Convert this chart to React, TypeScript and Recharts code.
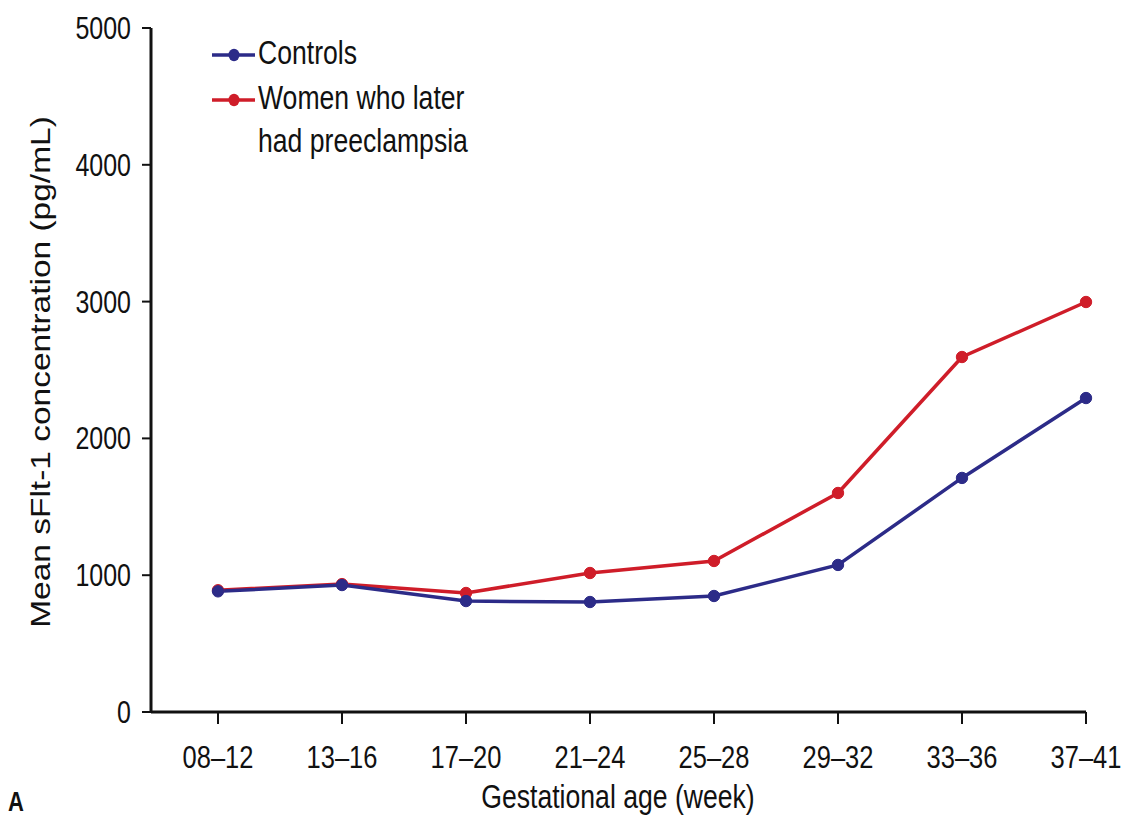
import { Line, LineChart, XAxis, YAxis } from "recharts";

const weeks = ["08–12", "13–16", "17–20", "21–24", "25–28", "29–32", "33–36", "37–41"];
const controls = [882, 928, 811, 804, 848, 1075, 1711, 2295];
const preeclampsia = [890, 935, 870, 1016, 1104, 1601, 2595, 2997];
const yTicks = [0, 1000, 2000, 3000, 4000, 5000];

const BLUE = "#2c2b88";
const RED = "#cf1d29";
const INK = "#111";
const FONT = "'Liberation Sans', Arial, sans-serif";
// the source figure is stretched vertically, so glyphs are taller than they are wide
const STRETCH = 1.24;

const rows = weeks.map((w, i) => ({ week: w, controls: controls[i], pre: preeclampsia[i] }));

function TallText({
  x,
  y,
  anchor = "start",
  size = 25,
  weight = "normal",
  children,
}: {
  x: number;
  y: number;
  anchor?: "start" | "middle" | "end";
  size?: number;
  weight?: string;
  children: React.ReactNode;
}) {
  return (
    <text
      x={0}
      y={0}
      transform={`translate(${x},${y}) scale(1,${STRETCH})`}
      textAnchor={anchor}
      fill={INK}
      fontSize={size}
      fontWeight={weight}
      fontFamily={FONT}
    >
      {children}
    </text>
  );
}

function XTick(props: any) {
  const { x, payload } = props;
  return <TallText x={x} y={768} anchor="middle" size={25.5}>{payload.value}</TallText>;
}

function YTick(props: any) {
  const { y, payload } = props;
  return <TallText x={131} y={y + 11} anchor="end">{payload.value}</TallText>;
}

function LegendRow({ y, color }: { y: number; color: string }) {
  return (
    <g>
      <line x1={212} y1={y} x2={255} y2={y} stroke={color} strokeWidth={3.5} />
      <ellipse cx={234} cy={y} rx={5.5} ry={6.2} fill={color} />
    </g>
  );
}

function Overlay() {
  return (
    <svg width={1128} height={823} style={{ position: "absolute", left: 0, top: 0, pointerEvents: "none" }}>
      <LegendRow y={55} color={BLUE} />
      <TallText x={258} y={64} size={26.6}>Controls</TallText>
      <LegendRow y={100} color={RED} />
      <TallText x={258} y={109} size={26.6}>Women who later</TallText>
      <TallText x={258} y={152} size={26.6}>had preeclampsia</TallText>

      <text
        x={0}
        y={0}
        transform={`translate(50,372) rotate(-90) scale(${STRETCH},1)`}
        textAnchor="middle"
        fill={INK}
        fontSize={27}
        fontFamily={FONT}
      >
        Mean sFlt-1 concentration (pg/mL)
      </text>
      <TallText x={618} y={808} anchor="middle" size={26.6}>Gestational age (week)</TallText>
      <TallText x={8} y={811} size={22} weight="bold">A</TallText>
    </svg>
  );
}

export default function App() {
  return (
    <div style={{ position: "absolute", left: 0, top: 0, width: 1128, height: 823, background: "#fff" }}>
      <LineChart width={1128} height={823} data={rows} margin={{ top: 28, right: 42, bottom: 51, left: 0 }}>
        <XAxis
          dataKey="week"
          padding={{ left: 67, right: 0 }}
          height={60}
          tick={<XTick />}
          tickSize={12}
          axisLine={{ stroke: INK, strokeWidth: 3 }}
          tickLine={{ stroke: INK, strokeWidth: 2 }}
          interval={0}
        />
        <YAxis
          width={151}
          domain={[0, 5000]}
          ticks={yTicks}
          tick={<YTick />}
          tickSize={9}
          axisLine={{ stroke: INK, strokeWidth: 3 }}
          tickLine={{ stroke: INK, strokeWidth: 2 }}
        />
        <Line
          dataKey="pre"
          name="Women who later had preeclampsia"
          stroke={RED}
          strokeWidth={3.5}
          dot={{ r: 5.7, fill: RED, stroke: RED, strokeWidth: 1 }}
          activeDot={false}
          isAnimationActive={false}
        />
        <Line
          dataKey="controls"
          name="Controls"
          stroke={BLUE}
          strokeWidth={3.5}
          dot={{ r: 5.7, fill: BLUE, stroke: BLUE, strokeWidth: 1 }}
          activeDot={false}
          isAnimationActive={false}
        />
      </LineChart>
      <Overlay />
    </div>
  );
}
